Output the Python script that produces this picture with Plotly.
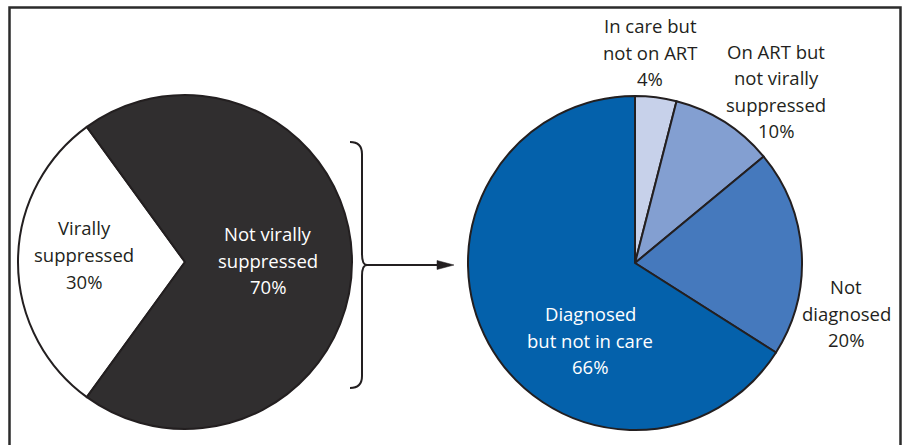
import plotly.graph_objects as go

W, H = 904, 445

# ---- data ----
left_labels = ["Virally suppressed", "Not virally suppressed"]
left_values = [30, 70]
right_labels = ["In care but not on ART", "On ART but not virally suppressed",
                "Not diagnosed", "Diagnosed but not in care"]
right_values = [4, 10, 20, 66]

# ---- styling ----
left_colors = ["#ffffff", "#302e2f"]
right_colors = ["#c7d1ea", "#839fd1", "#4579bd", "#0461ab"]
ink = "#231f20"
FONT = "Open Sans"
FS = 18.5
LINE = 26.5


def px(x, y):
    return x / W, 1 - y / H


def dom(cx, cy, r):
    return dict(x=[(cx - r) / W, (cx + r) / W], y=[1 - (cy + r) / H, 1 - (cy - r) / H])


fig = go.Figure()
fig.add_trace(go.Pie(
    labels=left_labels, values=left_values, sort=False, direction="clockwise",
    rotation=216, textinfo="none", hoverinfo="label+percent",
    marker=dict(colors=left_colors, line=dict(color=ink, width=2)),
    domain=dom(185, 262, 167), showlegend=False,
))
fig.add_trace(go.Pie(
    labels=right_labels, values=right_values, sort=False, direction="clockwise",
    rotation=0, textinfo="none", hoverinfo="label+percent",
    marker=dict(colors=right_colors, line=dict(color=ink, width=2)),
    domain=dom(635, 263, 167), showlegend=False,
))

# label text split into lines
left_lines = [["Virally", "suppressed"], ["Not virally", "suppressed"]]
right_lines = [["In care but", "not on ART"], ["On ART but", "not virally", "suppressed"],
               ["Not", "diagnosed"], ["Diagnosed", "but not in care"]]
left_pos = [(84, 254.5), (268, 260)]
right_pos = [(650, 52), (776, 91), (846, 313), (590, 340)]
left_tc = [ink, "#ffffff"]
right_tc = [ink, ink, ink, "#ffffff"]

annotations = []
for lines, val, (x, y), c in zip(left_lines + right_lines, left_values + right_values,
                                 left_pos + right_pos, left_tc + right_tc):
    all_lines = lines + [f"{val}%"]
    n = len(all_lines)
    for i, t in enumerate(all_lines):
        ly = y + (i - (n - 1) / 2) * LINE
        ax_, ay_ = px(x, ly)
        annotations.append(dict(
            x=ax_, y=ay_, xref="paper", yref="paper", showarrow=False,
            text=t, align="center", xanchor="center", yanchor="middle",
            font=dict(family=FONT, size=FS, color=c),
        ))


def path(cmds):
    out = []
    for c in cmds:
        if isinstance(c, str):
            out.append(c)
        else:
            x, y = px(*c)
            out.append(f"{x:.5f},{y:.5f}")
    return " ".join(out)


shapes = []
# frame
x0, y0 = px(9.5, 7.5)
x1, y1 = px(900.5, 460)
shapes.append(dict(type="rect", xref="paper", yref="paper", x0=x0, y0=y1, x1=x1, y1=y0,
                   line=dict(color="#2b2b2b", width=2.5), fillcolor="rgba(0,0,0,0)"))
# brace
brace = path(["M", (350, 142), "Q", (362, 142), (362, 154), "L", (362, 254),
              "Q", (362, 265), (367, 265),
              "Q", (362, 265), (362, 276), "L", (362, 376),
              "Q", (362, 388), (350, 388)])
shapes.append(dict(type="path", xref="paper", yref="paper", path=brace,
                   line=dict(color=ink, width=2)))
# arrow shaft + head
shapes.append(dict(type="path", xref="paper", yref="paper",
                   path=path(["M", (366, 265), "L", (440, 265)]),
                   line=dict(color=ink, width=2)))
shapes.append(dict(type="path", xref="paper", yref="paper",
                   path=path(["M", (437, 260.5), "L", (454, 265), "L", (437, 269.5), "Z"]),
                   line=dict(color=ink, width=0.5), fillcolor=ink))

fig.update_layout(
    width=W, height=H, margin=dict(l=0, r=0, t=0, b=0),
    paper_bgcolor="#ffffff", plot_bgcolor="#ffffff",
    annotations=annotations, shapes=shapes, showlegend=False,
)

fig.write_html("out.html", config={"displayModeBar": False},
               post_script="document.body.style.margin='0';document.body.style.overflow='hidden';")
